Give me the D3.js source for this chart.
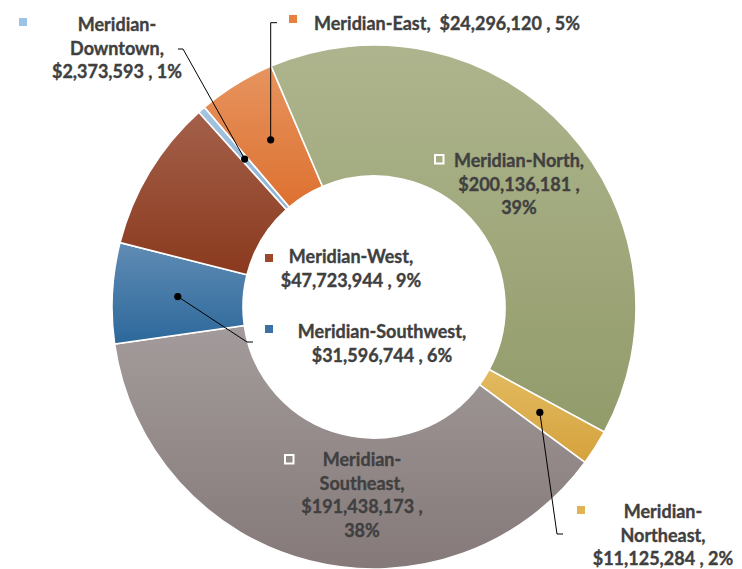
<!DOCTYPE html>
<html>
<head>
<meta charset="utf-8">
<script src="https://cdn.jsdelivr.net/npm/d3@7"></script>
<style>
  html, body { margin: 0; padding: 0; background: #fff; }
  svg { display: block; }
  .lbl { font-family: Lato, "Open Sans", sans-serif; font-weight: 700; fill: #404040;
         stroke: #404040; stroke-width: 0.35px; white-space: pre; }
</style>
</head>
<body>
<svg id="chart" width="742" height="569"></svg>
<script>
// Revenue by region
const categories = ["Meridian-Downtown", "Meridian-East", "Meridian-North", "Meridian-Northeast",
                    "Meridian-Southeast", "Meridian-Southwest", "Meridian-West"];
const values = [2373593, 24296120, 200136181, 11125284, 191438173, 31596744, 47723944];

// slice fills: [top, bottom] of a vertical gradient, plus the legend key colour
const fillTop    = ["#A4C4E0", "#E7945F", "#AEB58E", "#E2BA60", "#A39B9B", "#5F8CB4", "#A4604A"];
const fillBottom = ["#8DB2D5", "#DD7130", "#929B6A", "#D5A23C", "#857979", "#2D689B", "#8A3A1E"];
const keyColor   = ["#9DC3E6", "#E8803E", null, "#E0B450", null, "#3A72A4", "#9A4A2A"];

const W = 742, H = 569;
const cx = 374, cy = 307, rOuter = 262, rInner = 131;
const startDeg = -42;

const svg = d3.select("#chart");
const defs = svg.append("defs");

const total = d3.sum(values);

// percentages rounded so that they add up to 100 (largest remainder)
function roundedPercents(vals) {
  const raw = vals.map(v => v / total * 100);
  const fl = raw.map(Math.floor);
  let rest = 100 - d3.sum(fl);
  const order = raw.map((r, i) => [r - Math.floor(r), i]).sort((a, b) => b[0] - a[0]);
  for (let k = 0; k < rest; k++) fl[order[k][1]] += 1;
  return fl;
}
const pcts = roundedPercents(values);
const money = d3.format("$,.0f");

const pie = d3.pie().value(d => d).sort(null)
  .startAngle(startDeg * Math.PI / 180)
  .endAngle((startDeg + 360) * Math.PI / 180);
const arcs = pie(values);
const arc = d3.arc().innerRadius(rInner).outerRadius(rOuter);

categories.forEach((c, i) => {
  const g = defs.append("linearGradient").attr("id", "grad" + i)
    .attr("x1", 0).attr("y1", 0).attr("x2", 0).attr("y2", 1);
  g.append("stop").attr("offset", "0%").attr("stop-color", fillTop[i]);
  g.append("stop").attr("offset", "100%").attr("stop-color", fillBottom[i]);
});

const gPie = svg.append("g").attr("transform", `translate(${cx},${cy})`);
gPie.selectAll("path.slice").data(arcs).join("path")
  .attr("class", "slice")
  .attr("d", arc)
  .attr("fill", (d, i) => `url(#grad${i})`)
  .attr("stroke", "#fff")
  .attr("stroke-width", 1.6);

// label layout: line templates, centre x, first baseline, key box
const fontSize = 18;
const lineH = 23.6;
const layout = [
  { lines: ["{a}", "{b},", "{v} , {p}"], x: 117, y: 31, key: [19, 18] },
  { lines: ["{a}{b},  {v} , {p}"], x: 447, y: 30, key: [289, 15] },
  { lines: ["{a}{b},", "{v} ,", "{p}"], x: 519, y: 167, key: [434, 154], hollow: true },
  { lines: ["{a}", "{b},", "{v} , {p}"], x: 663, y: 518, key: [577, 506] },
  { lines: ["{a}", "{b},", "{v} ,", "{p}"], x: 362, y: 466, key: [284, 454], hollow: true },
  { lines: ["{a}{b},", "{v} , {p}"], x: 382, y: 338, key: [265, 325] },
  { lines: ["{a}{b},", "{v} , {p}"], x: 351, y: 263, key: [265, 254] }
];
// leader elbows (end of the line next to the label)
const leaders = [
  [[183, 49], [178, 49]],
  [[270.7, 22.7], [277, 22.7]],
  null,
  [[557, 534], [563, 534]],
  null,
  [[247, 342], [253, 342]],
  null
];

function fillTemplate(t, i) {
  const name = categories[i];
  const h = name.indexOf("-");
  return t.replace("{a}", name.slice(0, h + 1))
          .replace("{b}", name.slice(h + 1))
          .replace("{v}", money(values[i]))
          .replace("{p}", pcts[i] + "%");
}

// leader lines with a dot on the slice
arcs.forEach((d, i) => {
  if (!leaders[i]) return;
  const c = arc.centroid(d);
  const p0 = [cx + c[0], cy + c[1]];
  const pts = [p0].concat(leaders[i]);
  svg.append("path")
    .attr("d", d3.line()(pts))
    .attr("fill", "none")
    .attr("stroke", "#000")
    .attr("stroke-width", 1);
  svg.append("circle").attr("cx", p0[0]).attr("cy", p0[1]).attr("r", 3.6).attr("fill", "#000");
});

// data labels
layout.forEach((L, i) => {
  const g = svg.append("g");
  L.lines.forEach((t, k) => {
    g.append("text").attr("class", "lbl")
      .attr("x", L.x).attr("y", L.y + k * lineH)
      .attr("text-anchor", "middle")
      .attr("font-size", fontSize)
      .text(fillTemplate(t, i));
  });
  if (L.hollow) {
    g.append("rect").attr("x", L.key[0] + 1).attr("y", L.key[1] + 1)
      .attr("width", 8.5).attr("height", 8.5)
      .attr("fill", "none").attr("stroke", "#fff").attr("stroke-width", 2);
  } else {
    g.append("rect").attr("x", L.key[0]).attr("y", L.key[1])
      .attr("width", 8).attr("height", 8)
      .attr("fill", keyColor[i]);
  }
});
</script>
</body>
</html>
